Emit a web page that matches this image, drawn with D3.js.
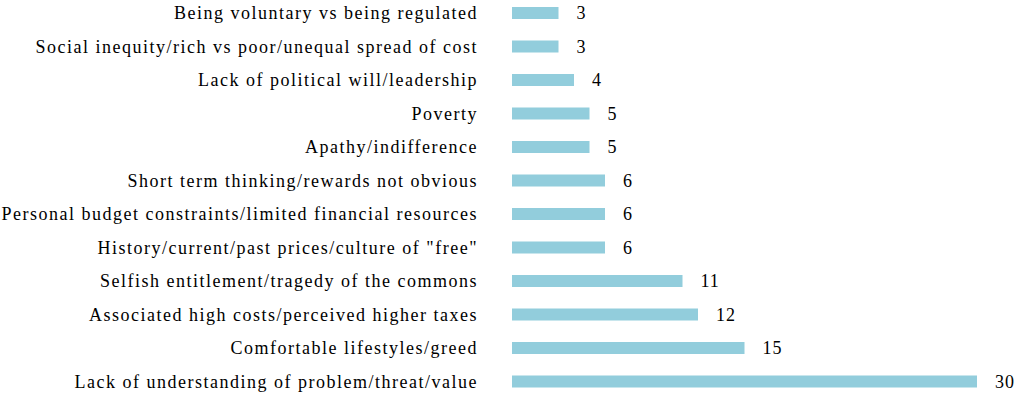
<!DOCTYPE html>
<html><head><meta charset="utf-8">
<script src="https://cdn.jsdelivr.net/npm/d3@7"></script>
<style>body{margin:0;background:#fff}svg{display:block}</style>
</head><body>
<svg id="c" width="1024" height="404"></svg>
<script>
const categories = [
  "Being voluntary vs being regulated",
  "Social inequity/rich vs poor/unequal spread of cost",
  "Lack of political will/leadership",
  "Poverty",
  "Apathy/indifference",
  "Short term thinking/rewards not obvious",
  "Personal budget constraints/limited financial resources",
  "History/current/past prices/culture of \"free\"",
  "Selfish entitlement/tragedy of the commons",
  "Associated high costs/perceived higher taxes",
  "Comfortable lifestyles/greed",
  "Lack of understanding of problem/threat/value"
];
const values = [3, 3, 4, 5, 5, 6, 6, 6, 11, 12, 15, 30];

const svg = d3.select("#c");
const x = d3.scaleLinear().domain([0, 30]).range([512, 977]);
const y = d3.scaleBand().domain(categories).range([-3.75, 398.25]).paddingInner(0.64).paddingOuter(0.32);

const g = svg.append("g");
g.selectAll("rect").data(values).join("rect")
  .attr("x", x(0))
  .attr("y", (d, i) => y(categories[i]) + y.bandwidth()/2 - 6)
  .attr("width", d => x(d) - x(0))
  .attr("height", 12)
  .attr("fill", "#92CDDC");

g.selectAll("text.v").data(values).join("text").attr("class", "v")
  .attr("x", d => x(d) + 18)
  .attr("y", (d, i) => y(categories[i]) + y.bandwidth()/2)
  .attr("dy", "0.36em")
  .attr("font-family", "Liberation Serif, Times New Roman, serif")
  .attr("font-size", 18)
  .attr("letter-spacing", 1)
  .attr("fill", "#000")
  .text(d => d);

g.selectAll("text.c").data(categories).join("text").attr("class", "c")
  .attr("x", 478)
  .attr("y", d => y(d) + y.bandwidth()/2)
  .attr("dy", "0.36em")
  .attr("text-anchor", "end")
  .attr("font-family", "Liberation Serif, Times New Roman, serif")
  .attr("font-size", 18)
  .attr("letter-spacing", 1.5)
  .attr("fill", "#000")
  .text(d => d);
</script>
</body></html>
